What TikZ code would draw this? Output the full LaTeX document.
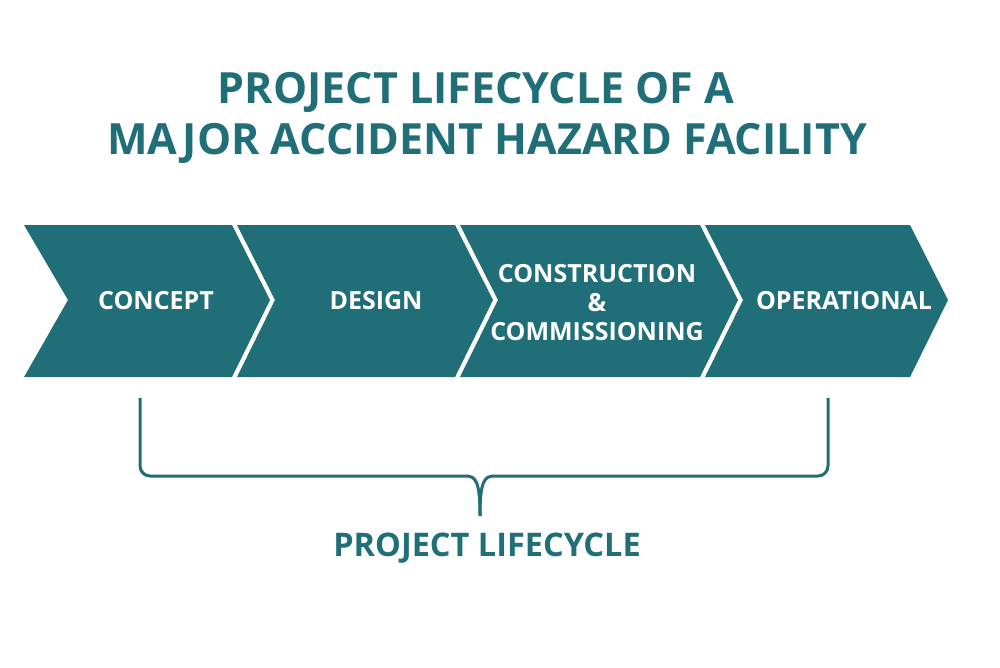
\documentclass[tikz,border=0pt]{standalone}
\usepackage{fontspec}
\setmainfont{Open Sans}
\definecolor{teal1}{HTML}{1F6E78}
\begin{document}
\begin{tikzpicture}[x=1pt,y=-1pt,
  chev/.style={fill=teal1,draw=none},
  lab/.style={text=white,font=\bfseries\fontsize{25}{29}\selectfont,align=center},
  ttl/.style={text=teal1,font=\bfseries\fontsize{43}{51}\selectfont,align=center}]
\useasboundingbox (0,0) rectangle (1000,667);
\fill[chev] (24,225) -- (232,225) -- (270,300) -- (232,377) -- (24,377) -- (68,300) -- cycle;
\fill[chev] (237,225) -- (455,225) -- (493,300) -- (455,377) -- (237,377) -- (275,300) -- cycle;
\fill[chev] (460,225) -- (700,225) -- (738,300) -- (700,377) -- (460,377) -- (498,300) -- cycle;
\fill[chev] (705,225) -- (910,225) -- (948,300) -- (910,377) -- (705,377) -- (743,300) -- cycle;
\node[lab] (c1) at (156,301) {CONCEPT};
\node[lab] (c2) at (376,301) {DESIGN};
\node[lab] (c3) at (597,303) {CONSTRUCTION\\\&\\COMMISSIONING};
\node[lab] (c4) at (844,301) {OPERATIONAL};
\node[ttl] (t1) at (476,92) {PROJECT LIFECYCLE OF A};
\node[ttl] (t2) at (487,143) {MAJOR ACCIDENT HAZARD FACILITY};
\coordinate (bl) at (140,398);
\coordinate (br) at (828,398);
\coordinate (bm) at (480,516);
\draw[teal1,line width=3pt,rounded corners=10pt] (bl) -- (140,476) -- (466,476);
\draw[teal1,line width=3pt] (466,476) .. controls (476,476) and (480,482) .. (bm);
\draw[teal1,line width=3pt,rounded corners=10pt] (br) -- (828,476) -- (494,476);
\draw[teal1,line width=3pt] (494,476) .. controls (484,476) and (480,482) .. (bm);
\node[text=teal1,font=\bfseries\fontsize{32.5}{36}\selectfont] (pl) at (487,548) {PROJECT LIFECYCLE};
\end{tikzpicture}
\end{document}
